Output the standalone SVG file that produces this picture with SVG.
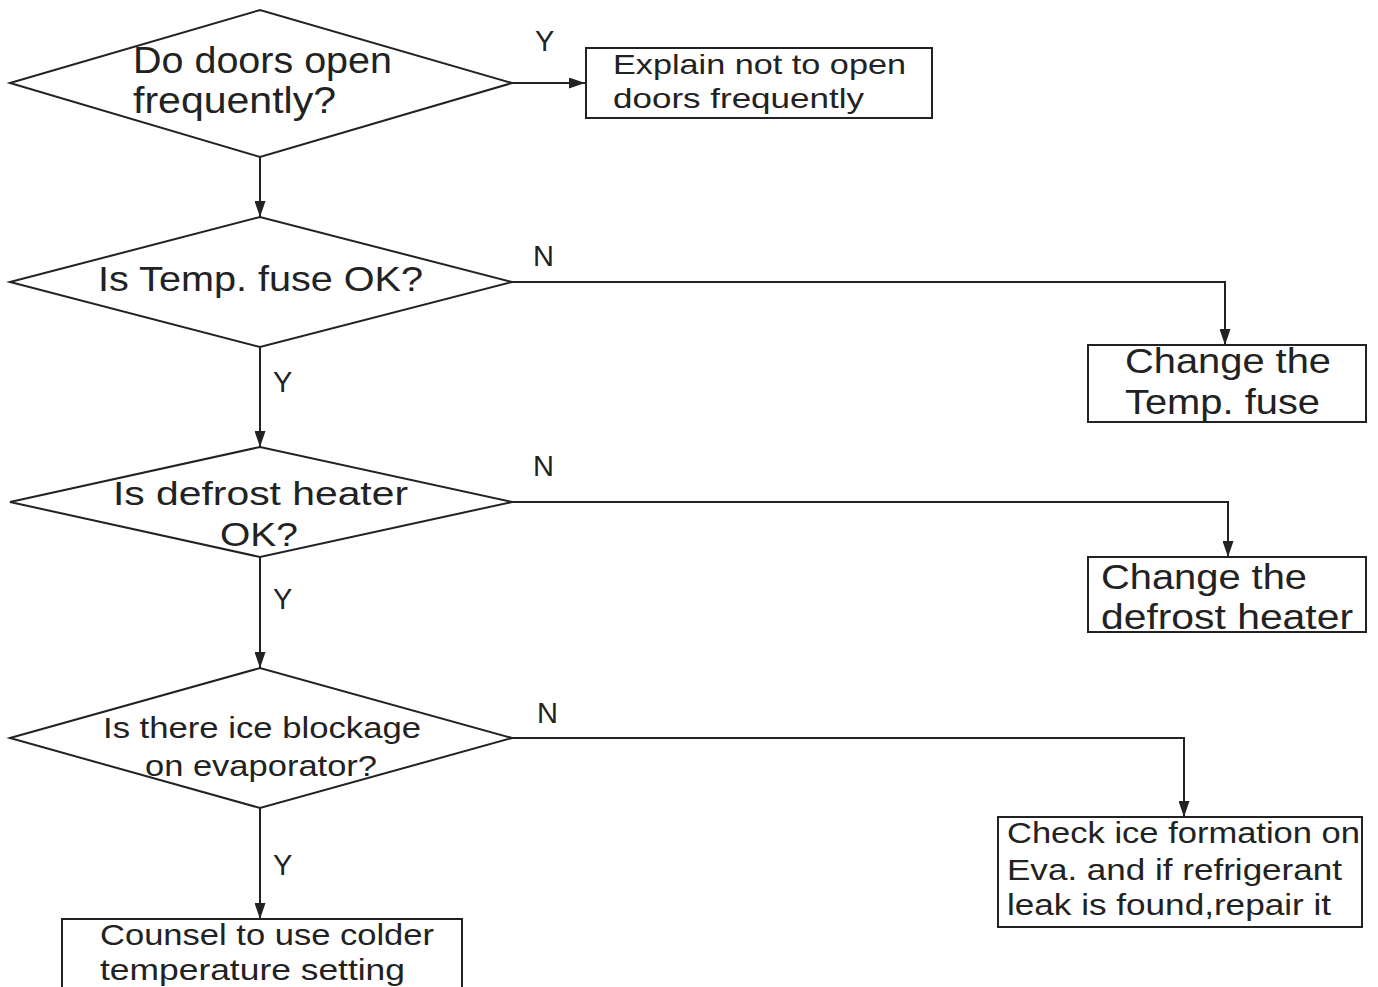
<svg xmlns="http://www.w3.org/2000/svg" width="1378" height="987" viewBox="0 0 1378 987">
<defs>
<marker id="arr" markerWidth="16" markerHeight="11" refX="16" refY="5.5" orient="auto" markerUnits="userSpaceOnUse" viewBox="0 0 16 11">
<path d="M0,0 L16,5.5 L0,11 Z" fill="#222"/>
</marker>
<style>
.s{fill:#fff;stroke:#222;stroke-width:2}
.c{fill:none;stroke:#222;stroke-width:2}
text{font-family:"Liberation Sans",Arial,sans-serif;fill:#222}
.l{font-size:29px}
</style>
</defs>
<rect width="1378" height="987" fill="#fff"/>
<g id="connectors">
<path class="c" d="M512,83 H585" marker-end="url(#arr)"/>
<path class="c" d="M260,157 V217" marker-end="url(#arr)"/>
<path class="c" d="M512,282 H1225 V345" marker-end="url(#arr)"/>
<path class="c" d="M260,347 V447" marker-end="url(#arr)"/>
<path class="c" d="M512,502 H1228 V557" marker-end="url(#arr)"/>
<path class="c" d="M260,557 V668" marker-end="url(#arr)"/>
<path class="c" d="M512,738 H1184 V817" marker-end="url(#arr)"/>
<path class="c" d="M260,808 V919" marker-end="url(#arr)"/>
<text class="l" x="535" y="51">Y</text>
<text class="l" x="533" y="266">N</text>
<text class="l" x="273" y="392">Y</text>
<text class="l" x="533" y="476">N</text>
<text class="l" x="273" y="609">Y</text>
<text class="l" x="537" y="723">N</text>
<text class="l" x="273" y="875">Y</text>
</g>
<g id="d1">
<polygon class="s" points="10,83 260,10 512,83 260,157"/>
<text x="133" y="73" font-size="36" textLength="259" lengthAdjust="spacingAndGlyphs">Do doors open</text>
<text x="133" y="113" font-size="36" textLength="203" lengthAdjust="spacingAndGlyphs">frequently?</text>
</g>
<g id="b1">
<rect class="s" x="586" y="48" width="346" height="70"/>
<text x="613" y="74" font-size="28" textLength="293" lengthAdjust="spacingAndGlyphs">Explain not to open</text>
<text x="613" y="108" font-size="28" textLength="251" lengthAdjust="spacingAndGlyphs">doors frequently</text>
</g>
<g id="d2">
<polygon class="s" points="10,282 260,217 512,282 260,347"/>
<text x="98" y="291" font-size="35" textLength="325" lengthAdjust="spacingAndGlyphs">Is Temp. fuse OK?</text>
</g>
<g id="b2">
<rect class="s" x="1088" y="345" width="278" height="77"/>
<text x="1125" y="373" font-size="35" textLength="206" lengthAdjust="spacingAndGlyphs">Change the</text>
<text x="1125" y="414" font-size="35" textLength="195" lengthAdjust="spacingAndGlyphs">Temp. fuse</text>
</g>
<g id="d3">
<polygon class="s" points="10,502 260,447 512,502 260,557"/>
<text x="113" y="505" font-size="34" textLength="295" lengthAdjust="spacingAndGlyphs">Is defrost heater</text>
<text x="220" y="546" font-size="34" textLength="78" lengthAdjust="spacingAndGlyphs">OK?</text>
</g>
<g id="b3">
<rect class="s" x="1088" y="557" width="278" height="75"/>
<text x="1101" y="589" font-size="35" textLength="206" lengthAdjust="spacingAndGlyphs">Change the</text>
<text x="1101" y="629" font-size="35" textLength="252" lengthAdjust="spacingAndGlyphs">defrost heater</text>
</g>
<g id="d4">
<polygon class="s" points="10,738 260,668 512,738 260,808"/>
<text x="103" y="738" font-size="30" textLength="318" lengthAdjust="spacingAndGlyphs">Is there ice blockage</text>
<text x="145" y="776" font-size="30" textLength="232" lengthAdjust="spacingAndGlyphs">on evaporator?</text>
</g>
<g id="b4">
<rect class="s" x="998" y="817" width="364" height="110"/>
<text x="1007" y="843" font-size="30" textLength="353" lengthAdjust="spacingAndGlyphs">Check ice formation on</text>
<text x="1007" y="880" font-size="30" textLength="335" lengthAdjust="spacingAndGlyphs">Eva. and if refrigerant</text>
<text x="1007" y="915" font-size="30" textLength="324" lengthAdjust="spacingAndGlyphs">leak is found,repair it</text>
</g>
<g id="b5">
<rect class="s" x="62" y="919" width="400" height="80"/>
<text x="100" y="945" font-size="30" textLength="334" lengthAdjust="spacingAndGlyphs">Counsel to use colder</text>
<text x="100" y="980" font-size="30" textLength="305" lengthAdjust="spacingAndGlyphs">temperature setting</text>
</g>
</svg>
